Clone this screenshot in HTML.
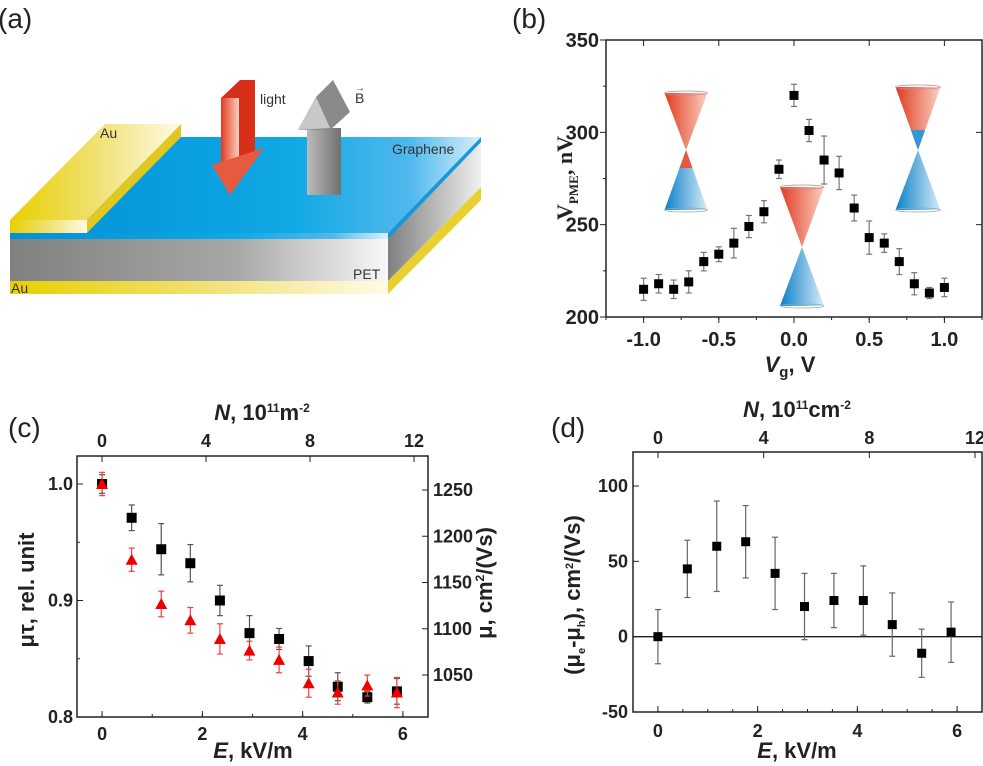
<!DOCTYPE html>
<html><head><meta charset="utf-8"><style>
body{margin:0;background:#fff;}
svg{display:block;font-family:"Liberation Sans",Arial,sans-serif;}
.tk{font-size:18px;font-weight:bold;fill:#222;}
.tkb{font-size:20px;font-weight:bold;fill:#222;}
.ttl{font-size:22px;font-weight:bold;fill:#222;}
.lbl{font-size:28px;fill:#222;}
</style></head><body>
<svg id="fig" width="983" height="766" viewBox="0 0 983 766" xmlns="http://www.w3.org/2000/svg">
<defs>
<linearGradient id="gBlue" x1="0" x2="1" y1="0" y2="0"><stop offset="0" stop-color="#0090d8"/><stop offset="0.6" stop-color="#10a8e4"/><stop offset="0.85" stop-color="#50b8ec"/><stop offset="1" stop-color="#d8f0fc"/></linearGradient>
<linearGradient id="gGray" x1="0" x2="1"><stop offset="0" stop-color="#808080"/><stop offset="0.6" stop-color="#a8a8a8"/><stop offset="1" stop-color="#f8f8f8"/></linearGradient>
<linearGradient id="gGray2" x1="0" x2="1"><stop offset="0" stop-color="#808080"/><stop offset="1" stop-color="#f0f0f0"/></linearGradient>
<linearGradient id="gAu" x1="0" x2="1"><stop offset="0" stop-color="#e8d000"/><stop offset="0.5" stop-color="#f0e070"/><stop offset="1" stop-color="#fffbe8"/></linearGradient>
<linearGradient id="gRed" x1="0" x2="1"><stop offset="0" stop-color="#e03a20"/><stop offset="1" stop-color="#fbd0c0"/></linearGradient>
<linearGradient id="gCb" x1="0" x2="1"><stop offset="0" stop-color="#0a80c8"/><stop offset="1" stop-color="#d8ecf8"/></linearGradient>
<linearGradient id="gArG" x1="0" x2="1"><stop offset="0" stop-color="#bbb"/><stop offset="1" stop-color="#707070"/></linearGradient>
</defs>

<g>
<text class="lbl" x="-2" y="28">(a)</text>
<polygon points="388,233 481,137 481,187 388,281" fill="url(#gGray2)"/>
<polygon points="388,281 481,187 481,200 388,294" fill="#e8d030"/>
<polygon points="388,233 481,137 481,142 388,239" fill="#1898dc"/>
<polygon points="10,233 388,233 481,137 181,137" fill="url(#gBlue)"/>
<rect x="10" y="233" width="378" height="6" fill="url(#gBlue)"/>
<rect x="10" y="239" width="378" height="42" fill="url(#gGray)"/>
<rect x="10" y="281" width="378" height="13" fill="url(#gAu)"/>
<polygon points="10,220 87,220 181,124 105,124" fill="url(#gAu)"/>
<polygon points="87,220 181,124 181,137 87,233" fill="#e0c820"/>
<rect x="10" y="220" width="77" height="13" fill="url(#gAu)"/>
<g>
<polygon points="221,98 240,80 255,80 255,150 238,165" fill="#d83018"/>
<rect x="221" y="98" width="18" height="68" fill="url(#gRed)"/>
<polygon points="212,165 264,148 230,195" fill="#e85a40"/>
</g>
<text x="260" y="104" font-size="14" fill="#333">light</text>
<g>
<rect x="307" y="128" width="34" height="67" fill="url(#gArG)"/>
<polygon points="298,130 316,97 333,80 350,112 330,130" fill="#8a8a8a"/>
<polygon points="298,130 316,97 330,128" fill="#c8c8c8"/>
</g>
<text x="355" y="103" font-size="14" fill="#333">B</text>
<text x="355" y="91" font-size="10" fill="#333">→</text>
<text x="100" y="138" font-size="14" fill="#333">Au</text>
<text x="392" y="154" font-size="14" fill="#333">Graphene</text>
<text x="353" y="279" font-size="14" fill="#333">PET</text>
<text x="11" y="293" font-size="14" fill="#333">Au</text>
</g>

<text class="lbl" x="512" y="28">(b)</text>
<text class="lbl" x="8" y="437">(c)</text>
<text class="lbl" x="551" y="437">(d)</text>

<g id="cones"></g>
<g id="pb"></g>
<g id="pc"></g>
<g id="pd"></g>
</svg>
<script>
const bVg = [-1,-0.9,-0.8,-0.7,-0.6,-0.5,-0.4,-0.3,-0.2,-0.1,0,0.1,0.2,0.3,0.4,0.5,0.6,0.7,0.8,0.9,1.0];
const bV = [215,218,215,219,230,234,240,249,257,280,320,301,285,278,259,243,240,230,218,213,216];
const bErr = [6,5,5,6,5,4,8,6,6,5,6,6,13,9,7,9,5,7,6,3,5];
const bXTicks = ["-1.0","-0.5","0.0","0.5","1.0"];
const bYTicks = ["200","250","300","350"];
const cE = [0,0.59,1.18,1.76,2.35,2.94,3.53,4.12,4.7,5.29,5.88];
const cBlack = [1.0,0.971,0.944,0.932,0.900,0.872,0.867,0.848,0.826,0.817,0.822];
const cBlackErr = [0.008,0.011,0.022,0.016,0.013,0.015,0.009,0.013,0.012,0.005,0.011];
const cRed = [1.0,0.935,0.897,0.883,0.867,0.857,0.849,0.829,0.821,0.827,0.821];
const cRedErr = [0.01,0.01,0.011,0.011,0.013,0.008,0.011,0.012,0.01,0.009,0.013];
const cXTicks = ["0","2","4","6"];
const cYTicks = ["0.8","0.9","1.0"];
const cTopTicks = ["0","4","8","12"];
const cRightTicks = ["1050","1100","1150","1200","1250"];
const dE = [0,0.59,1.18,1.76,2.35,2.94,3.53,4.12,4.7,5.29,5.88];
const dV = [0,45,60,63,42,20,24,24,8,-11,3];
const dErr = [18,19,30,24,24,22,18,23,21,16,20];
const dXTicks = ["0","2","4","6"];
const dYTicks = ["-50","0","50","100"];
const dTopTicks = ["0","4","8","12"];

const NS="http://www.w3.org/2000/svg";
function mk(parent,tag,attrs,text){const e=document.createElementNS(NS,tag);for(const k in attrs)e.setAttribute(k,attrs[k]);if(text!==undefined)e.textContent=text;parent.appendChild(e);return e;}
function lin(d0,d1,p0,p1){return v=>p0+(v-d0)*(p1-p0)/(d1-d0);}
function frame(g,L,T,R,B){const r=mk(g,'rect',{x:L,y:T,width:R-L,height:B-T,fill:'none',stroke:'#222','stroke-width':1.5});
}
function errbar(g,x,y1,y2,col){mk(g,'line',{x1:x,x2:x,y1:y1,y2:y2,stroke:col,'stroke-width':1.2});mk(g,'line',{x1:x-3,x2:x+3,y1:y1,y2:y1,stroke:col,'stroke-width':1.2});mk(g,'line',{x1:x-3,x2:x+3,y1:y2,y2:y2,stroke:col,'stroke-width':1.2});}

(function(){
const g=document.getElementById('cones');
function cone(cx,w,top,neck,bot,split,name){
  const c=mk(g,'g',{});
  
  
  const hw=w/2;
  mk(c,'polygon',{points:`${cx-hw},${top} ${cx+hw},${top} ${cx},${neck}`,fill:'url(#gRed)'});
  mk(c,'polygon',{points:`${cx-hw},${bot} ${cx+hw},${bot} ${cx},${neck}`,fill:'url(#gCb)'});
  if(split>neck){const f=(split-neck)/(bot-neck)*hw;mk(c,'polygon',{points:`${cx},${neck} ${cx-f},${split} ${cx+f},${split}`,fill:'#e25a40'});}
  if(split<neck){const f=(neck-split)/(neck-top)*hw;mk(c,'polygon',{points:`${cx},${neck} ${cx-f},${split} ${cx+f},${split}`,fill:'#3098d8'});}
  mk(c,'ellipse',{cx:cx,cy:top,rx:hw,ry:2,fill:'none',stroke:'#c88','stroke-width':0.7});
  mk(c,'ellipse',{cx:cx,cy:bot,rx:hw,ry:2,fill:'none',stroke:'#8ab','stroke-width':0.7});
}
cone(686,43,93,150,210,168,'cone-p-doped');
cone(802,44,187,247,306,247,'cone-neutral');
cone(918,45,87,150,210,130,'cone-n-doped');
})();

(function(){
const g=document.getElementById('pb');
const L=606,R=982,T=40,B=317;
const x=lin(-1.25,1.25,L,R), y=lin(200,350,B,T);
frame(g,L,T,R,B);
bXTicks.forEach(t=>{const v=+t,px=x(v);mk(g,'line',{x1:px,x2:px,y1:B,y2:B+6,stroke:'#222'});mk(g,'line',{x1:px,x2:px,y1:T,y2:T+6,stroke:'#222'});
 const e=mk(g,'text',{x:px,y:B+29,'text-anchor':'middle',class:'tkb'},t);});
for(let v=-1.25;v<=1.25;v+=0.25){const px=x(v);mk(g,'line',{x1:px,x2:px,y1:B,y2:B+3,stroke:'#222'});}
bYTicks.forEach(t=>{const v=+t,py=y(v);mk(g,'line',{x1:L-6,x2:L,y1:py,y2:py,stroke:'#222'});mk(g,'line',{x1:R-6,x2:R,y1:py,y2:py,stroke:'#222'});
 const e=mk(g,'text',{x:L-7,y:py+7,'text-anchor':'end',class:'tkb'},t);});
for(let v=225;v<350;v+=50){const py=y(v);mk(g,'line',{x1:L-3,x2:L,y1:py,y2:py,stroke:'#222'});}
bVg.forEach((v,i)=>{const px=x(v);errbar(g,px,y(bV[i]+bErr[i]),y(bV[i]-bErr[i]),'#777');
 const r=mk(g,'rect',{x:px-4.5,y:y(bV[i])-4.5,width:9,height:9,fill:'#000'});});
const xt=mk(g,'text',{x:790,y:372,'text-anchor':'middle',class:'ttl','font-size':'24'});

xt.innerHTML='<tspan font-style="italic">V</tspan><tspan font-size="15" dy="5">g</tspan><tspan dy="-5">, V</tspan>';
const yt=mk(g,'text',{transform:'translate(572,178) rotate(-90)','text-anchor':'middle',class:'ttl','font-family':'Liberation Serif,serif','font-size':'25'});

yt.innerHTML='V<tspan font-size="13" dy="6">PME</tspan><tspan dy="-6">, nV</tspan>';
})();

(function(){
const g=document.getElementById('pc');
const L=77,R=428,T=456,B=717;
const x=lin(-0.5,6.5,L,R), y=lin(0.8,1.0,B,484);
const xn=lin(0,12,102,414);
const yr=lin(1050,1250,675,490);
frame(g,L,T,R,B);
cXTicks.forEach(t=>{const px=x(+t);mk(g,'line',{x1:px,x2:px,y1:B,y2:B-6,stroke:'#222'});
 const e=mk(g,'text',{x:px,y:B+23,'text-anchor':'middle',class:'tk'},t);});
for(let v=0;v<=6.5;v+=1){mk(g,'line',{x1:x(v),x2:x(v),y1:B,y2:B-3,stroke:'#222'});}
cTopTicks.forEach(t=>{const px=xn(+t);mk(g,'line',{x1:px,x2:px,y1:T,y2:T+6,stroke:'#222'});
 const e=mk(g,'text',{x:px,y:T-9,'text-anchor':'middle',class:'tk'},t);});
cYTicks.forEach(t=>{const py=y(+t);mk(g,'line',{x1:L,x2:L+6,y1:py,y2:py,stroke:'#222'});
 const e=mk(g,'text',{x:L-4,y:py+6,'text-anchor':'end',class:'tk'},t);});
[0.85,0.95].forEach(v=>mk(g,'line',{x1:L,x2:L+3,y1:y(v),y2:y(v),stroke:'#222'}));
cRightTicks.forEach(t=>{const py=yr(+t);mk(g,'line',{x1:R,x2:R-6,y1:py,y2:py,stroke:'#222'});
 const e=mk(g,'text',{x:R+5,y:py+6,class:'tk'},t);});
cE.forEach((v,i)=>{const px=x(v);errbar(g,px,y(cBlack[i]+cBlackErr[i]),y(cBlack[i]-cBlackErr[i]),'#555');
 const r=mk(g,'rect',{x:px-5,y:y(cBlack[i])-5,width:10,height:10,fill:'#000'});});
cE.forEach((v,i)=>{const px=x(v),py=y(cRed[i]);errbar(g,px,y(cRed[i]+cRedErr[i]),y(cRed[i]-cRedErr[i]),'#f04040');
 const r=mk(g,'polygon',{points:`${px-6},${py+5} ${px+6},${py+5} ${px},${py-6}`,fill:'#ee0000'});});
const xt=mk(g,'text',{x:253,y:758,'text-anchor':'middle',class:'ttl'});
xt.innerHTML='<tspan font-style="italic">E</tspan>, kV/m';
const tt=mk(g,'text',{x:262,y:420,'text-anchor':'middle',class:'ttl'});
tt.innerHTML='<tspan font-style="italic">N</tspan>, 10<tspan font-size="12" dy="-8">11</tspan><tspan dy="8">m</tspan><tspan font-size="12" dy="-8">-2</tspan>';
const yt=mk(g,'text',{transform:'translate(34,590) rotate(-90)','text-anchor':'middle',class:'ttl'},'μτ, rel. unit');
const rt=mk(g,'text',{transform:'translate(492,583) rotate(-90)','text-anchor':'middle',class:'ttl'});
rt.innerHTML='μ, cm<tspan font-size="12" dy="-8">2</tspan><tspan dy="8">/(Vs)</tspan>';
})();

(function(){
const g=document.getElementById('pd');
const L=633,R=982,T=452,B=712;
const x=lin(-0.5,6.5,L,R), y=lin(-50,100,B,486);
const xn=lin(0,12,658,975);
frame(g,L,T,R,B);
mk(g,'line',{x1:L,x2:R,y1:y(0),y2:y(0),stroke:'#222','stroke-width':1.3});
dXTicks.forEach(t=>{const px=x(+t);mk(g,'line',{x1:px,x2:px,y1:B,y2:B-6,stroke:'#222'});
 const e=mk(g,'text',{x:px,y:B+25,'text-anchor':'middle',class:'tk'},t);});
for(let v=-0.5;v<=6.5;v+=0.5){mk(g,'line',{x1:x(v),x2:x(v),y1:B,y2:B-3,stroke:'#222'});}
dTopTicks.forEach(t=>{const px=xn(+t);mk(g,'line',{x1:px,x2:px,y1:T,y2:T+6,stroke:'#222'});
 const e=mk(g,'text',{x:px,y:T-8,'text-anchor':'middle',class:'tk'},t);});
dYTicks.forEach(t=>{const py=y(+t);mk(g,'line',{x1:L,x2:L+6,y1:py,y2:py,stroke:'#222'});
 const e=mk(g,'text',{x:L-5,y:py+6,'text-anchor':'end',class:'tk'},t);});
dE.forEach((v,i)=>{const px=x(v);errbar(g,px,y(dV[i]+dErr[i]),y(dV[i]-dErr[i]),'#666');
 const r=mk(g,'rect',{x:px-4.5,y:y(dV[i])-4.5,width:9,height:9,fill:'#000'});});
const xt=mk(g,'text',{x:797,y:758,'text-anchor':'middle',class:'ttl'});
xt.innerHTML='<tspan font-style="italic">E</tspan>, kV/m';
const tt=mk(g,'text',{x:797,y:417,'text-anchor':'middle',class:'ttl'});
tt.innerHTML='<tspan font-style="italic">N</tspan>, 10<tspan font-size="12" dy="-8">11</tspan><tspan dy="8">cm</tspan><tspan font-size="12" dy="-8">-2</tspan>';
const yt=mk(g,'text',{transform:'translate(580,595) rotate(-90)','text-anchor':'middle',class:'ttl','font-size':'19'});
yt.innerHTML='(μ<tspan font-size="11" dy="5">e</tspan><tspan dy="-5">-μ</tspan><tspan font-size="11" dy="5">h</tspan><tspan dy="-5">), cm</tspan><tspan font-size="11" dy="-7">2</tspan><tspan dy="7">/(Vs)</tspan>';
})();
</script>
</body></html>
